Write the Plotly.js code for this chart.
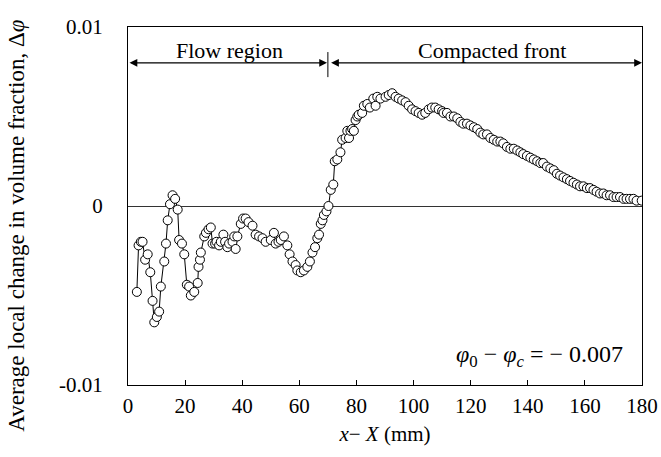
<!DOCTYPE html>
<html>
<head>
<meta charset="utf-8">
<script src="https://cdn.plot.ly/plotly-3.0.1.min.js"></script>
<style>html,body{margin:0;padding:0;background:#fff;}#chart{width:661px;height:457px;}</style>
</head>
<body>
<div id="chart"></div>
<script>
// Position x - X (mm)
const positions = [
 3.1,3.7,4.5,5.1,6.0,6.9,7.8,8.6,9.2,10.1,10.9,11.5,12.7,13.3,13.9,14.7,15.6,16.5,17.4,17.9,
 18.9,19.7,20.6,21.4,22.0,23.2,24.4,24.7,25.2,25.5,26.7,27.3,28.2,29.0,29.6,30.5,31.0,31.9,32.5,33.4,
 34.0,34.8,35.4,36.6,37.2,37.7,38.3,39.5,40.3,41.2,42.2,43.6,44.7,45.9,47.1,48.2,50.0,51.1,51.7,52.7,
 53.5,54.6,55.8,56.6,57.6,58.7,59.3,60.5,61.6,62.8,63.7,64.6,65.5,66.3,66.9,67.5,68.1,68.6,69.5,70.2,
 71.0,71.9,72.4,73.3,74.4,75.0,76.2,76.8,77.4,77.9,78.5,79.1,79.7,80.3,80.8,82.0,82.6,83.8,84.7,85.9,
 86.7,87.3,88.4,90.2,91.3,92.5,93.7,94.8,96.0,97.2,98.3,99.5,100.7,101.8,103.0,104.1,105.3,106.4,107.6,108.8,
 110.0,110.5,111.7,112.9,114.1,115.3,116.4,117.4,118.7,119.9,121.1,122.3,123.4,124.4,125.7,126.9,128.1,129.3,130.4,131.4,
 132.7,133.9,135.1,136.3,137.4,138.4,139.7,140.9,142.1,143.3,144.4,145.4,146.7,147.9,149.1,150.2,151.3,152.5,153.7,154.8,
 156.0,157.2,158.3,159.5,160.7,161.8,163.0,164.1,165.3,166.5,167.6,168.8,170.0,171.1,172.3,173.5,174.6,175.8,177.0,178.1,179.9
];
// Average local change in volume fraction
const deltaPhi = [
 -0.0048,-0.0022,-0.0020,-0.0020,-0.0030,-0.0027,-0.0037,-0.0053,-0.0065,-0.0062,-0.0059,-0.0045,-0.0031,-0.0021,-0.0008,0.0001,0.0006,0.0004,-0.0002,-0.0019,
 -0.0021,-0.0027,-0.0044,-0.0045,-0.0050,-0.0048,-0.0043,-0.0034,-0.0030,-0.0026,-0.0017,-0.0015,-0.0013,-0.0012,-0.0021,-0.0021,-0.0020,-0.0022,-0.0020,-0.0016,
 -0.0020,-0.0023,-0.0021,-0.0020,-0.0017,-0.0024,-0.0017,-0.0010,-0.0007,-0.0007,-0.0009,-0.0011,-0.0016,-0.0017,-0.0018,-0.0020,-0.0019,-0.0015,-0.0021,-0.0020,
 -0.0019,-0.0017,-0.0022,-0.0027,-0.0031,-0.0033,-0.0036,-0.0037,-0.0036,-0.0034,-0.0031,-0.0026,-0.0023,-0.0018,-0.0016,-0.0010,-0.0008,-0.0005,-0.0003,0.0000,
 0.0009,0.0012,0.0025,0.0026,0.0030,0.0037,0.0038,0.0042,0.0038,0.0042,0.0043,0.0042,0.0048,0.0050,0.0051,0.0052,0.0056,0.0057,0.0055,0.0060,
 0.0056,0.0061,0.0060,0.0061,0.0062,0.0063,0.0061,0.0060,0.0059,0.0058,0.0056,0.0054,0.0053,0.0052,0.0051,0.0052,0.0054,0.0055,0.0055,0.0054,
 0.0053,0.0052,0.0052,0.0050,0.0050,0.0049,0.0047,0.0046,0.0046,0.0045,0.0044,0.0043,0.0041,0.0040,0.0040,0.0038,0.0037,0.0036,0.0036,0.0035,
 0.0033,0.0032,0.0032,0.0031,0.0030,0.0029,0.0028,0.0027,0.0026,0.0025,0.0024,0.0024,0.0022,0.0021,0.0020,0.0018,0.0017,0.0016,0.0015,0.0014,
 0.0013,0.0012,0.0011,0.0011,0.0010,0.0010,0.0009,0.0008,0.0007,0.0007,0.0006,0.0006,0.0005,0.0005,0.0005,0.0004,0.0004,0.0004,0.0004,0.0003,0.0003
];
const xTicks = [0,20,40,60,80,100,120,140,160,180];
const yTicks = [-0.01,0,0.01];
const yTickLabels = ["-0.01","0","0.01"];
const regionLabels = ["Flow region","Compacted front"];
const regionBounds = [0,70,180];

const serif = "'Liberation Serif', 'DejaVu Serif', serif";

const trace = {
  x: positions, y: deltaPhi, type: "scatter", mode: "lines+markers",
  line: {color: "#000", width: 1},
  marker: {symbol: "circle", size: 9, color: "#fff", line: {color: "#000", width: 1}},
  hoverinfo: "skip", showlegend: false
};

const arrowY = 0.0080, labelY = 0.0087;
const annotations = [
  {x: (regionBounds[0]+regionBounds[1])/2, y: labelY, xref:"x", yref:"y", xshift: 2, text: regionLabels[0], showarrow:false, font:{family:serif,size:22,color:"#000"}},
  {x: (regionBounds[1]+regionBounds[2])/2, y: labelY, xref:"x", yref:"y", xshift: 7, text: regionLabels[1], showarrow:false, font:{family:serif,size:22,color:"#000"}},
  {x: regionBounds[1]-0.3, y: arrowY, ax: regionBounds[0], ay: arrowY, xref:"x", yref:"y", axref:"x", ayref:"y", text:"", showarrow:true, arrowhead:2, arrowside:"end+start", arrowsize:1.3, arrowwidth:1.2, arrowcolor:"#000"},
  {x: regionBounds[2], y: arrowY, ax: regionBounds[1]+0.6, ay: arrowY, xref:"x", yref:"y", axref:"x", ayref:"y", text:"", showarrow:true, arrowhead:2, arrowside:"end+start", arrowsize:1.3, arrowwidth:1.2, arrowcolor:"#000"},
  {x: 0.967, y: 0.08, xref:"paper", yref:"paper", xanchor:"right", yanchor:"middle", showarrow:false,
   text: "<i>φ</i><sub>0</sub> − <i>φ</i><sub><i>c</i></sub> = − 0.007", font:{family:serif,size:24,color:"#000"}},
  {x: 0, y: 0.445, xref:"paper", yref:"paper", xshift: -111, xanchor:"center", yanchor:"middle", textangle: -90, showarrow:false,
   text: "Average local change in volume fraction, Δ<i>φ</i>", font:{family:serif,size:23,color:"#000"}}
];

const layout = {
  width: 661, height: 457,
  margin: {l: 128, r: 19, t: 27, b: 72},
  paper_bgcolor: "#fff", plot_bgcolor: "#fff",
  font: {family: serif, color: "#000", size: 21},
  xaxis: {
    range: [0, 180], tickvals: xTicks, ticks: "inside", ticklen: 5, tickwidth: 1, tickcolor: "#000",
    showgrid: false, zeroline: false, showline: true, mirror: true, linecolor: "#000", linewidth: 1,
    tickfont: {family: serif, size: 21}, ticklabelstandoff: 2,
    title: {text: "<i>x</i>− <i>X</i> (mm)", font: {family: serif, size: 21}, standoff: 9}
  },
  yaxis: {
    range: [-0.01, 0.01], tickvals: yTicks, ticktext: yTickLabels, ticks: "",
    tickfont: {family: serif, size: 21}, ticklabelstandoff: 20,
    showgrid: false, zeroline: true, zerolinecolor: "#333", zerolinewidth: 1,
    showline: true, mirror: true, linecolor: "#000", linewidth: 1
  },
  shapes: [
    {type: "line", xref: "x", yref: "y", x0: regionBounds[1], x1: regionBounds[1], y0: 0.0072, y1: 0.0086, line: {color: "#000", width: 1}}
  ],
  annotations: annotations
};

Plotly.newPlot("chart", [trace], layout, {displayModeBar: false, staticPlot: true});
</script>
</body>
</html>
